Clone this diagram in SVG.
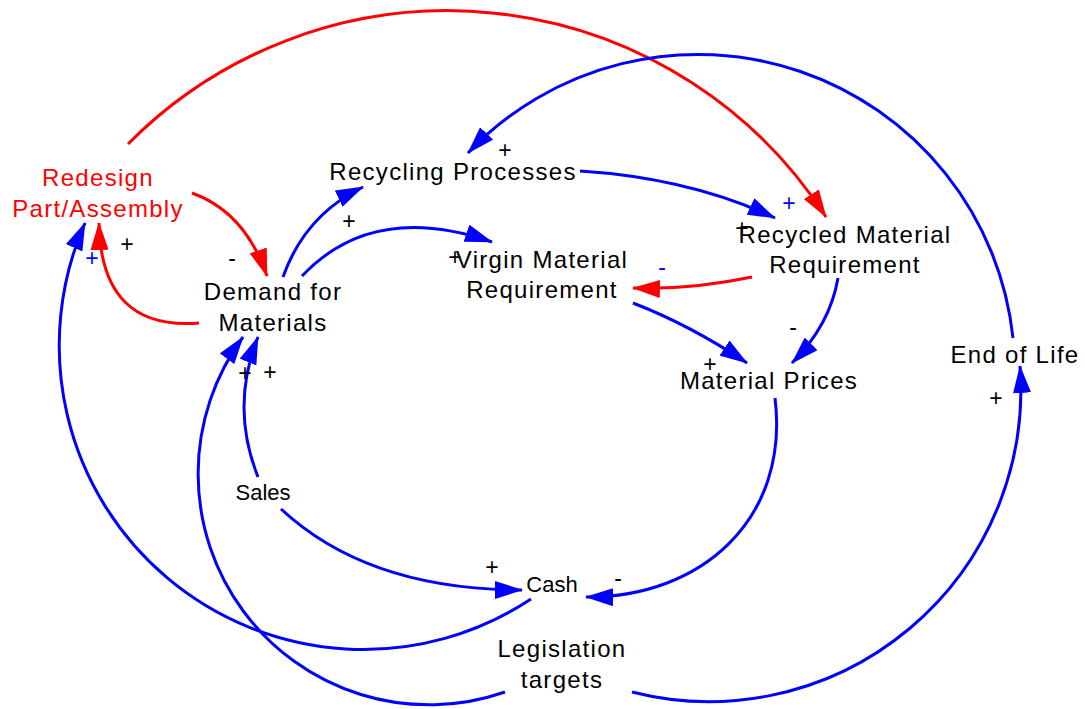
<svg xmlns="http://www.w3.org/2000/svg" width="1085" height="709" viewBox="0 0 1085 709">
  <style>
    .node { font-family: "Liberation Sans", Arial, sans-serif; font-size: 24px; letter-spacing: 1.3px; fill: #000; text-anchor: middle; }
    .small { font-family: "Liberation Sans", Arial, sans-serif; font-size: 22px; fill: #000; text-anchor: middle; }
    .red { fill: #ff0000; }
    .sign { font-family: "Liberation Sans", Arial, sans-serif; font-size: 23px; fill: #000; text-anchor: middle; }
    .sign.b { fill: #0000ff; }
    .lb { fill: none; stroke: #0000ff; stroke-width: 3; marker-end: url(#ab); }
    .lr { fill: none; stroke: #ff0000; stroke-width: 3; marker-end: url(#ar); }
  </style>
  <defs>
    <marker id="ab" markerUnits="userSpaceOnUse" viewBox="0 0 28 18" markerWidth="28" markerHeight="18" refX="27" refY="9" orient="auto">
      <path d="M0,0 L28,9 L0,18 z" fill="#0000ff"/>
    </marker>
    <marker id="ar" markerUnits="userSpaceOnUse" viewBox="0 0 28 18" markerWidth="28" markerHeight="18" refX="27" refY="9" orient="auto">
      <path d="M0,0 L28,9 L0,18 z" fill="#ff0000"/>
    </marker>
  </defs>

  <rect width="1085" height="709" fill="#ffffff"/>

  <!-- causal links -->
  <g id="connectors">
    <path class="lr" d="M128,144 A450,450 0 0 1 826,217"/>
    <path class="lb" d="M1013,338 A317,317 0 0 0 468,153"/>
    <path class="lb" d="M580,171 Q690,178 775,218"/>
    <path class="lr" d="M192,193 Q245,212 267,276"/>
    <path class="lr" d="M199,323 Q101,331 99,223"/>
    <path class="lb" d="M283,277 Q305,215 363,187"/>
    <path class="lb" d="M302,276 Q373,201 492,242"/>
    <path class="lr" d="M752,277 Q690,290 633,288"/>
    <path class="lb" d="M633,303 Q690,325 747,363"/>
    <path class="lb" d="M838,278 Q830,325 792,363"/>
    <path class="lb" d="M775,398 C790,520 700,598 586,597"/>
    <path class="lb" d="M281,509 Q368,590 522,590"/>
    <path class="lb" d="M258,477 Q230,407 258,337"/>
    <path class="lb" d="M505,692 A231,231 0 0 1 243,337"/>
    <path class="lb" d="M531,599 A304,304 0 0 1 85,223"/>
    <path class="lb" d="M632,692 A312,312 0 0 0 1020,366"/>

    <!-- polarity signs -->
    <text class="sign" x="505" y="158">+</text>
    <text class="sign" x="349" y="229">+</text>
    <text class="sign" x="455" y="265">+</text>
    <text class="sign" x="127" y="252">+</text>
    <text class="sign" x="232" y="266">-</text>
    <text class="sign b" x="92" y="266">+</text>
    <text class="sign b" x="789" y="211">+</text>
    <text class="sign" x="742" y="236">+</text>
    <text class="sign b" x="662" y="275">-</text>
    <text class="sign" x="793" y="335">-</text>
    <text class="sign" x="710" y="372">+</text>
    <text class="sign" x="245" y="381">+</text>
    <text class="sign" x="270" y="380">+</text>
    <text class="sign" x="492" y="575">+</text>
    <text class="sign" x="618" y="586">-</text>
    <text class="sign" x="996" y="406">+</text>
  </g>

  <g id="redesign">
    <text class="node red" x="98" y="186">Redesign</text>
    <text class="node red" x="98" y="217">Part/Assembly</text>
  </g>
  <g id="recycling-processes">
    <text class="node" x="453" y="180">Recycling Processes</text>
  </g>
  <g id="recycled-material-requirement">
    <text class="node" x="845" y="243">Recycled Material</text>
    <text class="node" x="845" y="273">Requirement</text>
  </g>
  <g id="virgin-material-requirement">
    <text class="node" x="542" y="268">Virgin Material</text>
    <text class="node" x="542" y="298">Requirement</text>
  </g>
  <g id="demand-for-materials">
    <text class="node" x="273" y="300">Demand for</text>
    <text class="node" x="273" y="331">Materials</text>
  </g>
  <g id="material-prices">
    <text class="node" x="769" y="389">Material Prices</text>
  </g>
  <g id="end-of-life">
    <text class="node" x="1015" y="363">End of Life</text>
  </g>
  <g id="sales">
    <text class="small" x="263" y="500">Sales</text>
  </g>
  <g id="cash">
    <text class="small" x="552" y="592">Cash</text>
  </g>
  <g id="legislation-targets">
    <text class="node" x="562" y="657">Legislation</text>
    <text class="node" x="562" y="688">targets</text>
  </g>
</svg>
